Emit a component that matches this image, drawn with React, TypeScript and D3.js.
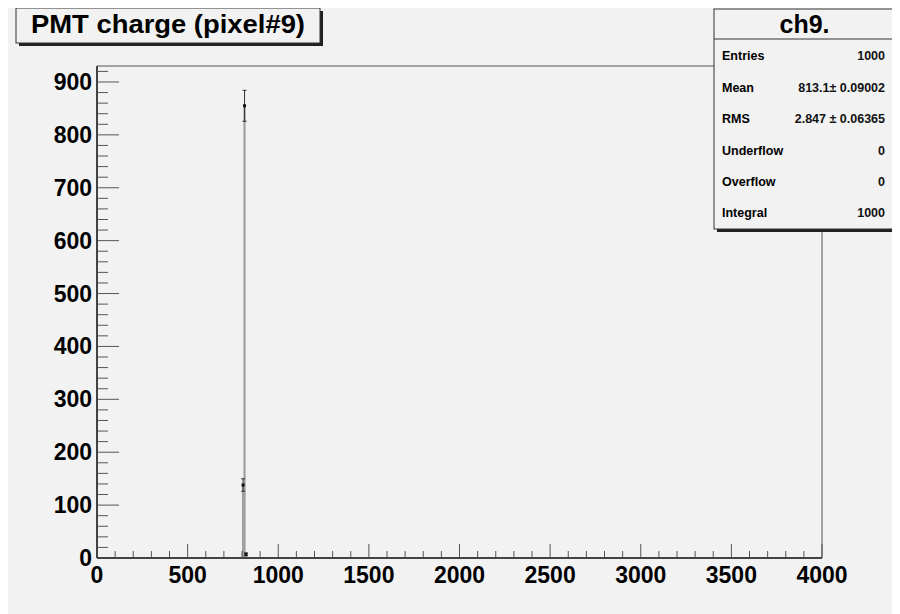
import React from "react";
import * as d3 from "d3";

const binCenters = [806, 814, 822];
const binWidth = 4;
const binCounts = [138, 855, 7];
const xTicks = [0, 500, 1000, 1500, 2000, 2500, 3000, 3500, 4000];
const yTicks = [0, 100, 200, 300, 400, 500, 600, 700, 800, 900];
const titleText = "PMT charge (pixel#9)";
const statsTitle = "ch9.";
const statsLabels = ["Entries", "Mean", "RMS", "Underflow", "Overflow", "Integral"];
const statsValues = ["1000", "813.1\u00b1 0.09002", "2.847 \u00b1 0.06365", "0", "0", "1000"];

const W = 892;
const H = 606;
const OX = 8; // svg offset in page
const OY = 8;

export default function App() {
  const x0 = 97 - OX, x1 = 822 - OX, y0 = 558 - OY, y1 = 66 - OY;
  const x = d3.scaleLinear().domain([0, 4000]).range([x0, x1]);
  const y = d3.scaleLinear().domain([0, 930.2]).range([y0, y1]);
  const font = "'Liberation Sans', Arial, Helvetica, sans-serif";

  const xMinor = d3.range(0, 4001, 100);
  const yMinor = d3.range(0, 930, 20);

  // histogram step path
  const stepPts: [number, number][] = [];
  binCenters.forEach((c, i) => {
    const l = c - binWidth / 2, r = c + binWidth / 2;
    stepPts.push([x(l), y(0)]);
    stepPts.push([x(l), y(binCounts[i])]);
    stepPts.push([x(r), y(binCounts[i])]);
    stepPts.push([x(r), y(0)]);
  });
  const line = d3.line();

  const sx0 = 714 - OX, sx1 = 895 - OX, sy0 = 8 - OY + 1, sy1 = 229 - OY;
  const rowYs = [56, 88, 119, 151, 182, 213];

  return (
    <svg width={W} height={H} style={{ display: "block" }}>
      <rect x={0} y={0} width={W} height={H} fill="#f2f2f2" />
      {/* frame */}
      <line x1={x0} x2={x1} y1={y1} y2={y1} stroke="#555" strokeWidth={1} />
      <line x1={x1} x2={x1} y1={y1} y2={y0} stroke="#555" strokeWidth={1} />
      {/* histogram */}
      <path d={line(stepPts) || ""} fill="none" stroke="#a0a0a0" strokeWidth={1.5} />
      {/* error bars */}
      {binCenters.map((c, i) => {
        const e = Math.sqrt(binCounts[i]);
        const cx = x(c);
        return (
          <g key={i}>
            <line x1={cx} x2={cx} y1={y(binCounts[i] + e)} y2={y(Math.max(0, binCounts[i] - e))} stroke="#333" strokeWidth={1} />
            <line x1={cx - 2} x2={cx + 2} y1={y(binCounts[i] + e)} y2={y(binCounts[i] + e)} stroke="#333" strokeWidth={1} />
            <line x1={cx - 2} x2={cx + 2} y1={y(Math.max(0, binCounts[i] - e))} y2={y(Math.max(0, binCounts[i] - e))} stroke="#333" strokeWidth={1} />
            <rect x={cx - 1.5} y={y(binCounts[i]) - 1.5} width={3} height={3} fill="#111" />
          </g>
        );
      })}
      {/* y axis */}
      {yMinor.map((v) => (
        <line key={"ym" + v} x1={x0} x2={x0 + (v % 100 === 0 ? 22 : 11)} y1={y(v)} y2={y(v)} stroke="#555" strokeWidth={1} />
      ))}
      {yTicks.map((v) => (
        <text key={"yt" + v} x={x0 - 5} y={y(v) + 8} textAnchor="end" fontFamily={font} fontWeight="bold" fontSize={23} fill="#000">
          {v}
        </text>
      ))}
      {/* x axis */}
      {xMinor.map((v) => (
        <line key={"xm" + v} x1={x(v)} x2={x(v)} y1={y0} y2={y0 - (v % 500 === 0 ? 14 : 7)} stroke="#555" strokeWidth={1} />
      ))}
      {xTicks.map((v) => (
        <text key={"xt" + v} x={x(v)} y={y0 + 25} textAnchor="middle" fontFamily={font} fontWeight="bold" fontSize={23} fill="#000">
          {v}
        </text>
      ))}
      <line x1={x0} x2={x0} y1={y1} y2={y0} stroke="#444" strokeWidth={2} />
      <line x1={x0} x2={x1} y1={y0} y2={y0} stroke="#444" strokeWidth={2} />
      {/* title box */}
      <rect x={16 - OX + 3} y={8 - OY + 3} width={304} height={35} fill="#222" />
      <rect x={16 - OX} y={8 - OY} width={304} height={35} fill="#f2f2f2" stroke="#333" strokeWidth={1} />
      <text x={168 - OX} y={33 - OY} textAnchor="middle" fontFamily={font} fontWeight="bold" fontSize={25} fill="#000" textLength={274} lengthAdjust="spacingAndGlyphs">
        {titleText}
      </text>
      {/* stats box */}
      <rect x={sx0 + 3} y={sy0 + 3} width={sx1 - sx0} height={sy1 - sy0} fill="#222" />
      <rect x={sx0} y={sy0} width={sx1 - sx0} height={sy1 - sy0} fill="#f2f2f2" stroke="#333" strokeWidth={1} />
      <line x1={sx0} x2={sx1} y1={39 - OY} y2={39 - OY} stroke="#333" strokeWidth={1} />
      <text x={(sx0 + sx1) / 2} y={33 - OY} textAnchor="middle" fontFamily={font} fontWeight="bold" fontSize={25} fill="#000">
        {statsTitle}
      </text>
      {statsLabels.map((l, i) => (
        <g key={l}>
          <text x={722 - OX} y={rowYs[i] + 4 - OY} fontFamily={font} fontWeight="bold" fontSize={12.5} fill="#000">
            {l}
          </text>
          <text x={885 - OX} y={rowYs[i] + 4 - OY} textAnchor="end" fontFamily={font} fontWeight="bold" fontSize={12.5} fill="#111">
            {statsValues[i]}
          </text>
        </g>
      ))}
    </svg>
  );
}
